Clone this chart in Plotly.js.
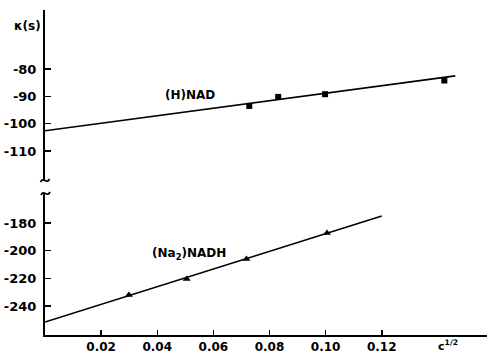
<!DOCTYPE html>
<html><head><meta charset="utf-8">
<script src="https://cdn.plot.ly/plotly-3.0.1.min.js"></script>
<style>body{margin:0;background:#fff}#plot{width:487px;height:355px}</style>
</head><body><div id="plot"></div>
<script>
// (H)NAD measured points (upper panel)
const nadX = [0.0728, 0.0831, 0.0998, 0.1423];
const nadY = [-93.5, -90.2, -89.2, -84.2];
// (H)NAD fitted line endpoints
const nadFitX = [0, 0.1462];
const nadFitY = [-102.6, -82.5];
// (Na2)NADH measured points (lower panel)
const nadhX = [0.0299, 0.0505, 0.0718, 0.1005];
const nadhY = [-232.1, -220.5, -206.0, -187.2];
// (Na2)NADH fitted line endpoints
const nadhFitX = [0, 0.12];
const nadhFitY = [-251.6, -175.0];
// tick labels
const xTickVals = [0.02, 0.04, 0.06, 0.08, 0.10, 0.12];
const xTickText = ['0.02', '0.04', '0.06', '0.08', '0.10', '0.12'];
const xMinorTicks = [0.14];
const upTickVals = [-80, -90, -100, -110];
const upTickText = ['-80', '-90', '-100', '-110'];
const upMinorTicks = [-70, -120];
const loTickVals = [-180, -200, -220, -240];
const loTickText = ['-180', '-200', '-220', '-240'];

const F = 'DejaVu Sans, sans-serif';
const traces = [
  {x: nadFitX, y: nadFitY, xaxis: 'x', yaxis: 'y2', mode: 'lines', line: {color: '#000', width: 1.6}, hoverinfo: 'skip'},
  {x: nadX, y: nadY, xaxis: 'x', yaxis: 'y2', mode: 'markers', marker: {symbol: 'square', size: 6, color: '#000'}},
  {x: nadhFitX, y: nadhFitY, xaxis: 'x', yaxis: 'y', mode: 'lines', line: {color: '#000', width: 1.6}, hoverinfo: 'skip'},
  {x: nadhX, y: nadhY, xaxis: 'x', yaxis: 'y', mode: 'markers', marker: {symbol: 'triangle-up', size: 7, color: '#000'}}
];
const L = 45, T = 10, W = 487, H = 355, B = 20;
const pw = W - L, ph = H - T - B;
function px(x){return (x - L)/pw;}
function py(y){return (H - B - y)/ph;}
const tilde = (cx, cy) => `M ${px(cx-5)} ${py(cy+2)} C ${px(cx-2)} ${py(cy-4)} ${px(cx+1)} ${py(cy+5)} ${px(cx+4)} ${py(cy-1)}`;
const tf = {family: F, size: 13, color: '#000', weight: 'bold'};
const axisCommon = {showline: true, linecolor: '#000', linewidth: 2, ticks: 'inside', ticklen: 6, tickwidth: 1.5, tickcolor: '#000', showgrid: false, zeroline: false, tickfont: {family: F, size: 12, color: '#000', weight: 'bold'}, fixedrange: true};
const yLo = {domain: [0, py(193)], range: [-261, -158.3]};
const yUp = {domain: [py(180), 1], range: [-120.6, -58.4]};
const xR = [0, 0.1575];
const layout = {
  width: W, height: H, showlegend: false,
  margin: {l: L, r: 0, t: T, b: B},
  paper_bgcolor: '#fff', plot_bgcolor: '#fff',
  xaxis: Object.assign({}, axisCommon, {range: xR, tickvals: xTickVals, ticktext: xTickText, anchor: 'y', ticklen: 5}),
  xaxis2: Object.assign({}, axisCommon, {range: xR, tickvals: xMinorTicks, showticklabels: false, anchor: 'y', overlaying: 'x', ticklen: 5}),
  yaxis: Object.assign({}, axisCommon, yLo, {tickvals: loTickVals, ticktext: loTickText, anchor: 'x', ticklabelstandoff: 4, tickfont: tf}),
  yaxis2: Object.assign({}, axisCommon, yUp, {tickvals: upTickVals, ticktext: upTickText, anchor: 'x', ticklabelstandoff: 4, tickfont: tf}),
  yaxis3: Object.assign({}, axisCommon, yUp, {tickvals: upMinorTicks, showticklabels: false, anchor: 'x', overlaying: 'y2'}),
  shapes: [
    {type: 'path', xref: 'paper', yref: 'paper', path: tilde(45.5, 180), line: {color: '#000', width: 1.8}},
    {type: 'path', xref: 'paper', yref: 'paper', path: tilde(46, 193), line: {color: '#000', width: 1.8}}
  ],
  annotations: [
    {text: '(H)NAD', x: 0.0517, y: -89.5, xref: 'x', yref: 'y2', showarrow: false, yanchor: 'middle', xanchor: 'center', font: {family: F, size: 12, color: '#000', weight: 'bold'}},
    {text: '(Na<sub>2</sub>)NADH', x: 0.0513, y: -202.4, xref: 'x', yref: 'y', showarrow: false, yanchor: 'middle', xanchor: 'center', font: {family: F, size: 12, color: '#000', weight: 'bold'}},
    {text: 'κ(s)', x: px(27), y: py(26), xref: 'paper', yref: 'paper', showarrow: false, yanchor: 'middle', xanchor: 'center', font: {family: F, size: 12, color: '#000', weight: 'bold'}},
    {text: 'c<sup>1/2</sup>', x: px(448), y: py(355), xref: 'paper', yref: 'paper', showarrow: false, yanchor: 'bottom', xanchor: 'center', font: {family: F, size: 11, color: '#000', weight: 'bold'}}
  ]
};
Plotly.newPlot('plot', traces, layout, {staticPlot: true, displayModeBar: false});
</script></body></html>
